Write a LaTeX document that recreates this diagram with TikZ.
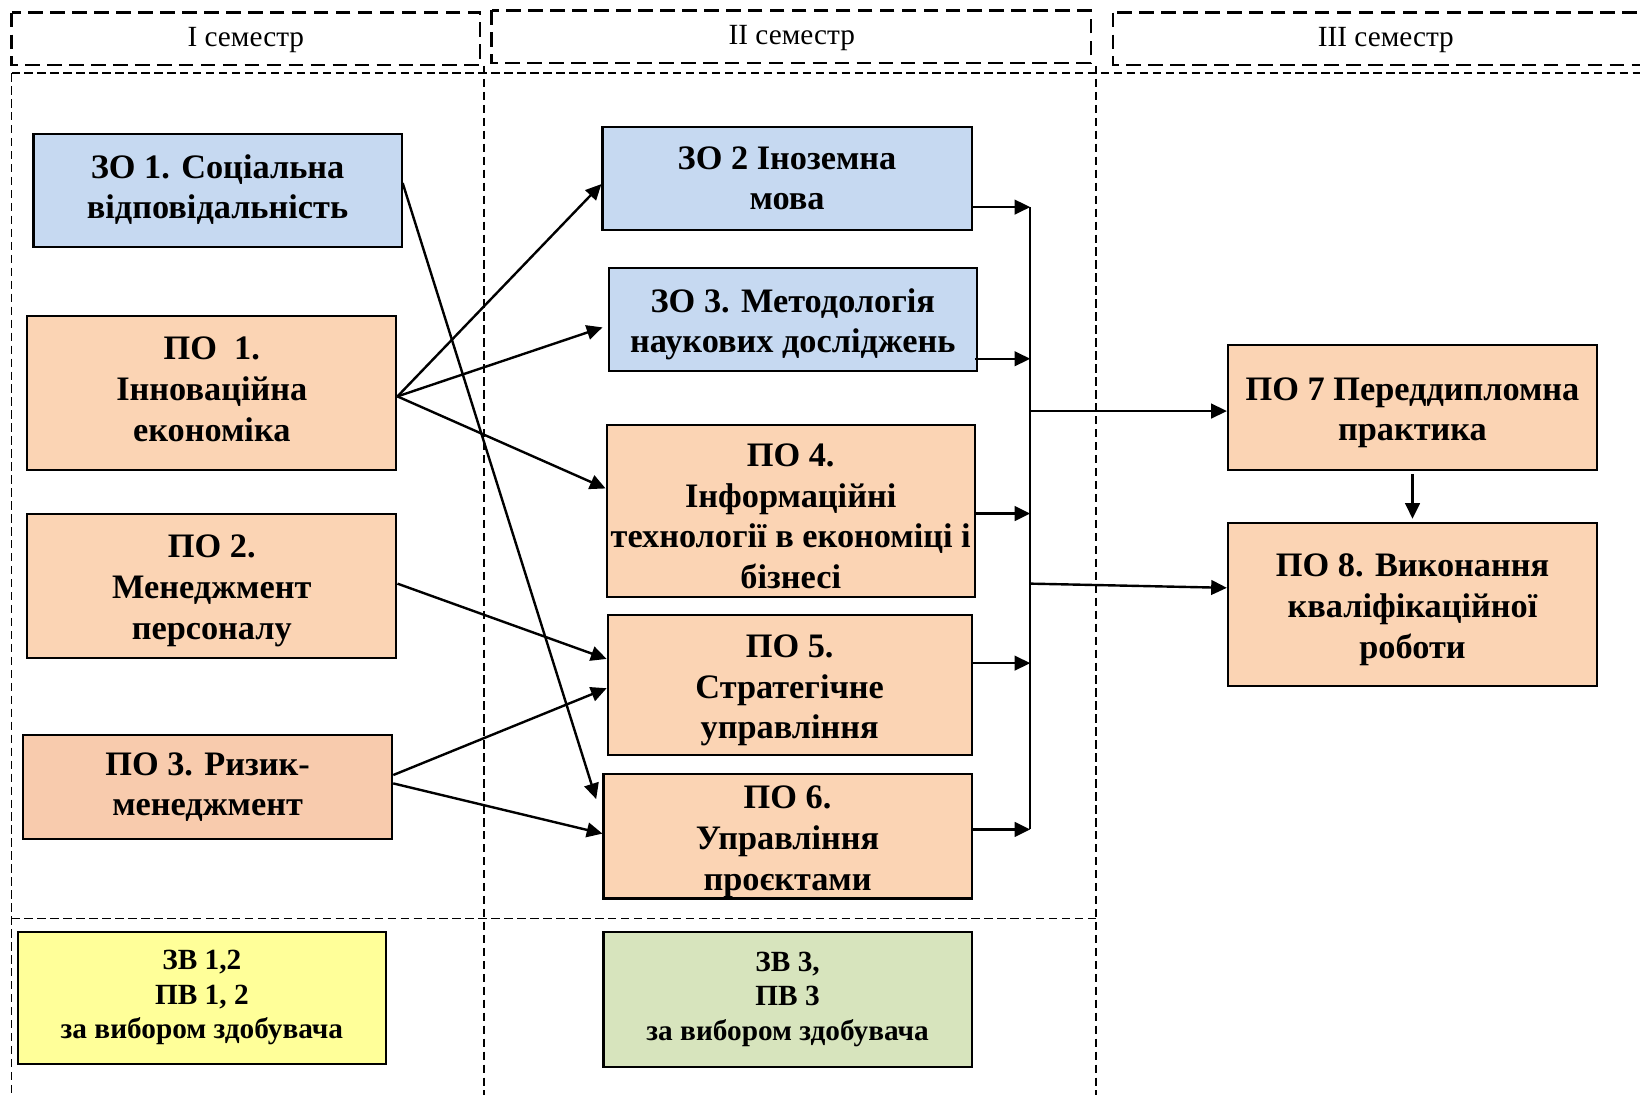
\documentclass[tikz,border=0pt]{standalone}
\usepackage{fontspec}
\setmainfont{Liberation Serif}
\usetikzlibrary{arrows.meta,calc}
\definecolor{zoblue}{HTML}{C6D9F1}
\definecolor{poorange}{HTML}{FBD4B4}
\definecolor{poorangeB}{HTML}{F8CBAD}
\definecolor{zvyellow}{HTML}{FFFF99}
\definecolor{zvgreen}{HTML}{D7E4BD}
\newcommand\dnstrut{\rule{0pt}{16pt}}
\begin{document}
\begin{tikzpicture}[x=0.5pt,y=-0.5pt,
  box/.style={draw=black, line width=1pt, inner sep=0pt, align=center,
    font=\fontsize{16.4}{19.5}\selectfont\bfseries},
  zvbox/.style={box, font=\fontsize{14}{16.5}\selectfont\bfseries},
  hdr/.style={draw=black, line width=1.1pt, dash pattern=on 7pt off 3.5pt},
  hdrtext/.style={font=\fontsize{14}{17}\selectfont, inner sep=0pt},
  grid/.style={draw=black, line width=0.8pt, dash pattern=on 4pt off 2.2pt},
  arr/.style={draw=black, line width=1.15pt, -{Triangle[length=7.5pt,width=7pt]}},
  bus/.style={draw=black, line width=1.15pt}
]
\useasboundingbox (0,0) rectangle (1568,1046);

% header boxes
\draw[hdr] (11,12) rectangle (459,62);
\draw[hdr] (470,10) rectangle (1043,60);
\draw[hdr] (1064,12) rectangle (1590,62);
\node[hdrtext] (h1) at (235,38) {I семестр};
\node[hdrtext] (h2) at (757,36) {II семестр};
\node[hdrtext] (h3) at (1325,38) {III семестр};

% grid
\draw[grid] (11,70) -- (1590,70);
\draw[grid] (11,70) -- (11,1060);
\draw[grid] (463,63) -- (463,1060);
\draw[grid] (1048,63) -- (1048,1060);
\draw[grid] (11,878) -- (1048,878);

% semester I
\node[box, fill=zoblue, minimum width=176pt, minimum height=54pt] (zo1) at (208,182)
  {ЗО 1. Соціальна\\відповідальність\vphantom{Ag}};
\node[box, fill=poorange, minimum width=176.5pt, minimum height=73.5pt] (po1) at (202.5,375.5)
  {ПО~~1.\\Інноваційна\\економіка\vphantom{Ag}};
\node[box, fill=poorange, minimum width=176.5pt, minimum height=69pt] (po2) at (202.5,560)
  {\dnstrut ПО 2.\\Менеджмент\\персоналу};
\node[box, fill=poorangeB, minimum width=176.5pt, minimum height=49.5pt] (po3) at (198.5,752.5)
  {ПО 3. Ризик-\\менеджмент};

% semester II
\node[box, fill=zoblue, minimum width=176.5pt, minimum height=49.5pt] (zo2) at (752.5,170.5)
  {ЗО 2 Іноземна\\мова};
\node[box, fill=zoblue, minimum width=176pt, minimum height=49.5pt] (zo3) at (758,305.5)
  {\dnstrut ЗО 3. Методологія\\наукових досліджень};
\node[box, fill=poorange, minimum width=176pt, minimum height=82.5pt] (po4) at (756,488.5)
  {\dnstrut ПО 4.\\Інформаційні\\\makebox[172pt][c]{технології в економіці і}\\бізнесі};
\node[box, fill=poorange, minimum width=174pt, minimum height=67pt] (po5) at (755,655)
  {\dnstrut ПО 5.\\Стратегічне\\управління};
\node[box, fill=poorange, minimum width=176pt, minimum height=59.5pt] (po6) at (753,799.5)
  {\dnstrut ПО 6.\\Управління\\проєктами};

% semester III
\node[box, fill=poorange, minimum width=176.5pt, minimum height=59.5pt] (po7) at (1350.5,389.5)
  {\dnstrut ПО 7 Переддипломна\\практика};
\node[box, fill=poorange, minimum width=176.5pt, minimum height=78pt] (po8) at (1350.5,578)
  {\dnstrut ПО 8. Виконання\\кваліфікаційної\\роботи};

% electives
\node[zvbox, fill=zvyellow, minimum width=176pt, minimum height=63pt] (zv12) at (193,954)
  {ЗВ 1,2\\ПВ 1, 2\\за вибором здобувача};
\node[zvbox, fill=zvgreen, minimum width=176pt, minimum height=64.5pt] (zv3) at (753,955.5)
  {ЗВ 3,\\ПВ 3\\за вибором здобувача};

% cross arrows
\draw[arr] (zo1.east |- 0,175) -- ($(po6.west |- 0,764)+(-6,0)$);
\draw[arr] (po1.east |- 0,379) -- (zo2.west |- 0,176);
\draw[arr] (po1.east |- 0,379) -- ($(zo3.west |- 0,313)+(-5,0)$);
\draw[arr] (po1.east |- 0,379) -- (po4.west |- 0,467);
\draw[arr] (po2.east |- 0,558) -- (po5.west |- 0,630);
\draw[arr] (po3.east |- 0,741) -- (po5.west |- 0,658);
\draw[arr] (po3.east |- 0,749) -- (po6.west |- 0,797);

% bus
\coordinate (b1) at (985,198);
\coordinate (b2) at (985,343);
\coordinate (b3) at (985,491);
\coordinate (b4) at (985,634);
\coordinate (b5) at (985,793);
\coordinate (o1) at (985,393);
\coordinate (o2) at (985,558);
\draw[bus] (b1) -- (b5);
\draw[arr] (zo2.east |- b1) -- (b1);
\draw[arr] ($(zo3.east |- b2)+(-3,0)$) -- (b2);
\draw[arr] (po4.east |- b3) -- (b3);
\draw[arr] (po5.east |- b4) -- (b4);
\draw[arr] (po6.east |- b5) -- (b5);
\draw[arr] (o1) -- (po7.west |- o1);
\draw[arr] (o2) -- (po8.west |- 0,562);
\draw[arr] ($(po7.south)+(0,3)$) -- ($(po8.north)+(0,-3)$);
\end{tikzpicture}
\end{document}
